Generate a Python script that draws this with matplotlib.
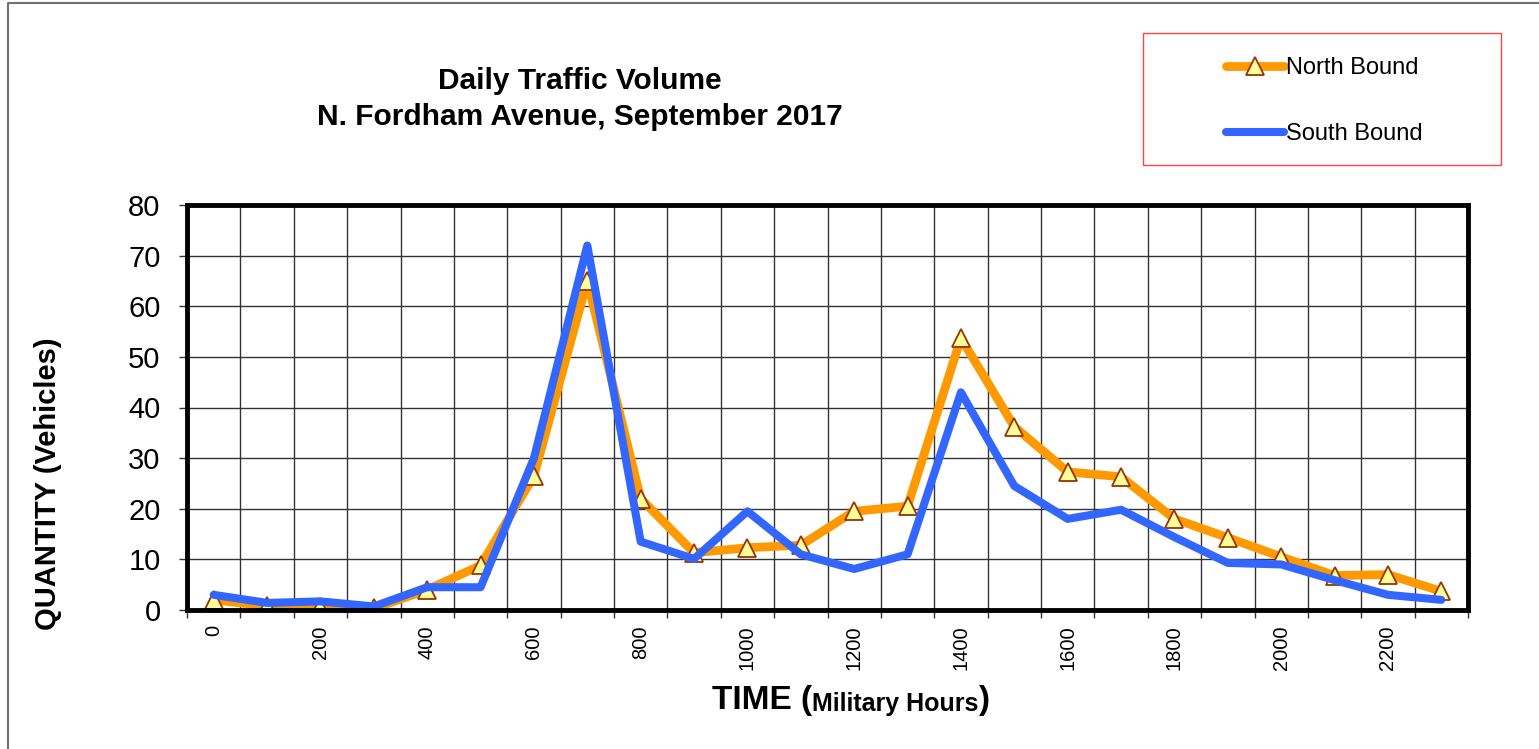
import matplotlib
matplotlib.use("Agg")
import matplotlib.pyplot as plt
from matplotlib.lines import Line2D
from matplotlib.patches import Rectangle

plt.rcParams['font.family'] = ['Liberation Sans', 'DejaVu Sans']

# data
hours = [0, 100, 200, 300, 400, 500, 600, 700, 800, 900, 1000, 1100,
         1200, 1300, 1400, 1500, 1600, 1700, 1800, 1900, 2000, 2100, 2200, 2300]
north = [2, 0.8, 0.5, 0.3, 4, 8.8, 26.5, 65, 22, 11.3, 12.3, 12.8,
         19.5, 20.5, 53.7, 36.2, 27.3, 26.3, 18, 14.3, 10.5, 6.8, 7, 3.7]
south = [3, 1.4, 1.7, 0.7, 4.5, 4.5, 30, 72, 13.5, 10.1, 19.5, 11,
         8.1, 11, 43, 24.5, 18, 19.8, 14.4, 9.3, 9, 5.9, 3, 2]
tick_labels = [str(h) if i % 2 == 0 else '' for i, h in enumerate(hours)]

W, H = 1539, 749
fig = plt.figure(figsize=(W / 100, H / 100), dpi=100)
ax = fig.add_axes([187 / W, 1 - 610 / H, (1468 - 187) / W, (610 - 205) / H])

x = list(range(len(hours)))
ax.plot(x, north, color='#FF9900', lw=6.3, marker='^', ms=13,
        mfc='#FFFF99', mec='#993300', mew=1.3,
        solid_joinstyle='round', solid_capstyle='round', label='North Bound', zorder=3)
ax.plot(x, south, color='#3366FF', lw=5.8,
        solid_joinstyle='round', solid_capstyle='round', label='South Bound', zorder=4)

ax.set_xlim(-0.5, len(hours) - 0.5)
ax.set_ylim(0, 80)
ax.set_yticks(range(0, 81, 10))
ax.set_xticks(x)
ax.set_xticklabels(tick_labels, rotation=90, fontsize=14.5)
ax.set_xticks([i - 0.5 for i in range(len(hours) + 1)], minor=True)
ax.tick_params(axis='x', which='major', length=0, pad=11)
ax.tick_params(axis='x', which='minor', length=6, width=1, color='#333333')
ax.tick_params(axis='y', labelsize=21, length=6, width=1, color='#333333', pad=13)
ax.grid(True, axis='y', color='#333333', lw=1)
ax.grid(True, axis='x', which='minor', color='#333333', lw=1)
for s in ax.spines.values():
    s.set_linewidth(3.5)
    s.set_color('black')
    s.set_zorder(5)

fig.text(580 / W, 1 - 99 / H, 'Daily Traffic Volume\nN. Fordham Avenue, September 2017',
         ha='center', va='center', fontsize=21.5, fontweight='bold', linespacing=1.35)
fig.text(48 / W, 1 - 484 / H, 'QUANTITY (Vehicles)', rotation=90,
         ha='center', va='center', fontsize=21, fontweight='bold')

# x axis title in three sizes
t1 = fig.text(712 / W, 1 - 709 / H, 'TIME (', fontsize=24, fontweight='bold',
              ha='left', va='baseline')
t2 = ax.annotate('Military Hours', xy=(1, 0), xycoords=t1, fontsize=18,
                 fontweight='bold', ha='left', va='bottom')
ax.annotate(')', xy=(1, 0), xycoords=t2, fontsize=24, fontweight='bold',
            ha='left', va='bottom')

# legend box
fig.add_artist(Rectangle((1143 / W, 1 - 165 / H), (1501 - 1143) / W, (165 - 33) / H,
                         transform=fig.transFigure, fill=False, ec='#FF4444', lw=1))
fig.legend(loc='center left', bbox_to_anchor=(1226 / W, 1 - 101 / H), frameon=False,
           fontsize=17, handlelength=2.45, handletextpad=0.1, labelspacing=1.85,
           borderpad=0, borderaxespad=0, numpoints=1)

# outer chart border (left and top edges)
fig.add_artist(Line2D([8 / W, 8 / W, 1], [0, 1 - 3 / H, 1 - 3 / H],
                      transform=fig.transFigure, color='#707070', lw=1.5))

fig.savefig('out.png', dpi=100)
